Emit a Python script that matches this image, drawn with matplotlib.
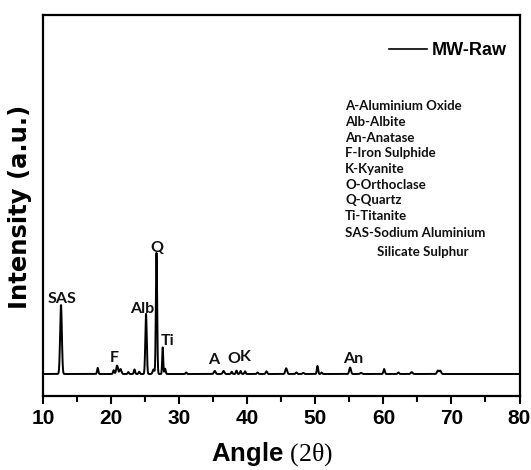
import matplotlib
matplotlib.use("Agg")
import matplotlib.pyplot as plt
import numpy as np
from matplotlib.lines import Line2D

# ---------------- data ----------------
two_theta_min, two_theta_max = 10, 80
baseline_level = 57

peak_pos = [12.6, 18.0, 20.35, 20.85, 21.35, 22.5, 23.4, 24.1, 25.1, 26.2,
            26.64, 27.55, 27.9, 31.0, 35.2, 36.5, 37.7, 38.4, 39.0, 39.65,
            41.5, 42.8, 45.7, 47.2, 48.2, 50.3, 50.9, 55.1, 56.7, 60.1,
            62.2, 64.15, 68.0, 68.35]
peak_height = [181, 16, 10, 22, 13, 5, 12, 6, 158, 12,
               318, 70, 14, 4, 8, 8, 6, 9, 8, 7,
               4, 7, 15, 4, 3, 21, 4, 17, 3, 13,
               4, 5, 9, 9]
peak_fwhm = [0.3, 0.22, 0.22, 0.32, 0.32, 0.22, 0.22, 0.22, 0.25, 0.3,
             0.22, 0.18, 0.22, 0.22, 0.3, 0.3, 0.22, 0.22, 0.22, 0.22,
             0.22, 0.25, 0.3, 0.25, 0.25, 0.22, 0.22, 0.3, 0.3, 0.25,
             0.25, 0.3, 0.3, 0.3]

phase_labels = ["SAS", "F", "Alb", "Q", "Ti", "A", "O", "K", "An"]
label_x = [12.75, 20.4, 24.5, 26.7, 28.3, 35.1, 38.0, 39.7, 55.5]
label_y = [243, 89, 217, 378, 133, 83, 86, 91, 86]

key_lines = ["A-Aluminium Oxide", "Alb-Albite", "An-Anatase", "F-Iron Sulphide",
             "K-Kyanite", "O-Orthoclase", "Q-Quartz", "Ti-Titanite",
             "SAS-Sodium Aluminium", "Silicate Sulphur"]
key_px_y = [109.6, 126.5, 142.5, 157.0, 172.8, 188.8, 203.8, 220.5, 237.3, 256.3]
key_px_x = [345, 345, 345, 345, 345, 345, 345, 345, 345, 377]

x_ticks = [10, 20, 30, 40, 50, 60, 70, 80]
x_minor = [15, 25, 35, 45, 55, 65, 75]
series_name = "MW-Raw"

# ---------------- build pattern ----------------
x = np.arange(two_theta_min, two_theta_max + 0.001, 0.01)
y = np.full_like(x, float(baseline_level))
for p, h, w in zip(peak_pos, peak_height, peak_fwhm):
    s = w / 2.3548
    y += h * np.exp(-0.5 * ((x - p) / s) ** 2)

# ---------------- figure ----------------
plt.rcParams['mathtext.fontset'] = 'custom'
plt.rcParams['mathtext.rm'] = 'Liberation Serif'
plt.rcParams['mathtext.it'] = 'Liberation Serif:italic'

W, H = 531, 470
fig = plt.figure(figsize=(W / 100, H / 100), dpi=100)
ax_l, ax_r, ax_t, ax_b = 43.3, 519.5, 15.0, 395.7
ax = fig.add_axes([ax_l / W, 1 - ax_b / H, (ax_r - ax_l) / W, (ax_b - ax_t) / H])

def axfrac(px, py):
    return (px - ax_l) / (ax_r - ax_l), (ax_b - py) / (ax_b - ax_t)

ax.plot(x, y, color='black', lw=1.4)
ax.set_xlim(two_theta_min, two_theta_max)
ax.set_ylim(0, 1000)

for s in ax.spines.values():
    s.set_linewidth(1.6)

ax.set_xticks(x_ticks)
ax.set_xticks(x_minor, minor=True)
ax.set_yticks([])
ax.tick_params(axis='x', which='major', direction='out', length=6, width=1.5,
               pad=3.5, labelsize=15)
ax.tick_params(axis='x', which='minor', direction='out', length=4.5, width=1.5)
for lbl in ax.get_xticklabels():
    lbl.set_fontfamily('Liberation Sans')
    lbl.set_fontweight('bold')

ax.set_xlabel(r"Angle $\mathrm{(2\theta)}$", fontsize=18.5, fontweight='bold',
              fontfamily='Liberation Sans')
ax.xaxis.set_label_coords(0.481, -0.118)

ax.set_ylabel("Intensity (a.u.)", fontsize=17.5, fontweight='bold',
              fontfamily='DejaVu Sans')
ax.yaxis.set_label_coords(-0.0233, 0.495)

# peak labels
for t, lx, ly in zip(phase_labels, label_x, label_y):
    ax.text(lx, ly, t, ha='center', va='baseline', fontsize=11.5,
            fontfamily='Lato', fontweight='bold', color='#111111')

# phase key
for t, px, py in zip(key_lines, key_px_x, key_px_y):
    fx, fy = axfrac(px, py)
    ax.text(fx, fy, t, transform=ax.transAxes, ha='left', va='baseline',
            fontsize=9.5, fontfamily='Lato', fontweight='bold', color='#111111')

# legend
handle = Line2D([], [], color='black', lw=1.2)
lx, ly = axfrac(507, 50.5)
ax.legend([handle], [series_name], loc='center right', bbox_to_anchor=(lx, ly),
          frameon=False, handlelength=2.1, handletextpad=0.3, borderpad=0,
          borderaxespad=0, prop={'family': 'Liberation Sans', 'weight': 'bold', 'size': 13})

fig.savefig("out.png", dpi=100)
